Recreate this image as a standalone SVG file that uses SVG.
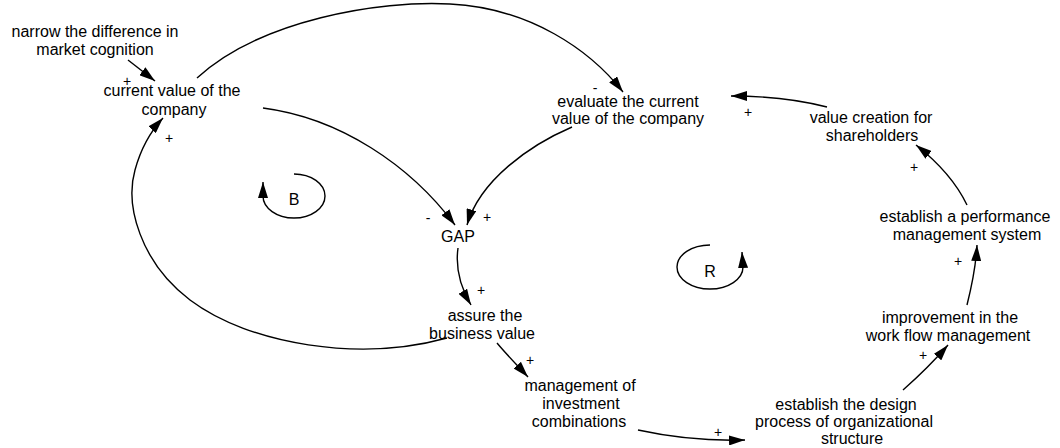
<svg xmlns="http://www.w3.org/2000/svg" width="1060" height="448" viewBox="0 0 1060 448">
  <defs>
    <marker id="head" viewBox="0 0 16 10" refX="16" refY="5" markerWidth="16" markerHeight="10" markerUnits="userSpaceOnUse" orient="auto">
      <path d="M0,0 L16,5 L0,10 z" fill="#000"/>
    </marker>
    <style>
      text { font-family: "Liberation Sans", Arial, Helvetica, sans-serif; font-size: 16px; fill: #000; text-anchor: middle; }
      .sign { font-size: 14px; }
      .link { fill: none; stroke: #000; stroke-width: 1.4; marker-end: url(#head); }
      .loop { fill: none; stroke: #000; stroke-width: 1.4; marker-end: url(#head); }
    </style>
  </defs>
  <rect width="1060" height="448" fill="#fff"/>

  <!-- causal links -->
  <g id="connectors">
    <path class="link" d="M128,60 L155,81"/>
    <path class="link" d="M197,78 C260,20 380,0 450,4 C530,8 590,50 623,92"/>
    <path class="link" d="M263,108 C340,118 410,165 455,225"/>
    <path class="link" d="M572,127 C530,145 480,180 467,225"/>
    <path class="link" d="M458,248 C455,270 462,290 471,305"/>
    <path class="link" d="M447,338 C360,362 250,345 190,300 C140,262 125,205 135,170 C141,148 150,132 163,118"/>
    <path class="link" d="M497,343 C507,355 518,366 528,377"/>
    <path class="link" d="M638,430 C670,437 710,441 745,440"/>
    <path class="link" d="M903,390 C920,375 935,360 948,345"/>
    <path class="link" d="M967,305 C972,285 976,265 977,245"/>
    <path class="link" d="M967,205 C955,180 935,160 916,145"/>
    <path class="link" d="M827,107 C800,100 770,96 731,96"/>

    <!-- polarity signs -->
    <text class="sign" x="127" y="86">+</text>
    <text class="sign" x="169" y="143">+</text>
    <text class="sign" x="595" y="93">-</text>
    <text class="sign" x="748" y="117">+</text>
    <text class="sign" x="428" y="223">-</text>
    <text class="sign" x="487" y="222">+</text>
    <text class="sign" x="481" y="295">+</text>
    <text class="sign" x="530" y="365">+</text>
    <text class="sign" x="914" y="172">+</text>
    <text class="sign" x="958" y="266">+</text>
    <text class="sign" x="923" y="360">+</text>
    <text class="sign" x="718" y="437">+</text>
  </g>

  <!-- loop markers -->
  <g id="loop-B">
    <path class="loop" d="M294,174 A31,22 0 1,1 263,196 L263,182"/>
    <text x="294" y="205">B</text>
  </g>
  <g id="loop-R">
    <path class="loop" d="M710,245 A33,22 0 1,0 743,267 L742,252"/>
    <text x="710" y="277">R</text>
  </g>

  <!-- variables -->
  <g id="narrow-difference">
    <text x="95" y="37">narrow the difference in</text>
    <text x="95" y="55">market cognition</text>
  </g>
  <g id="current-value">
    <text x="172" y="96">current value of the</text>
    <text x="174" y="115">company</text>
  </g>
  <g id="evaluate-value">
    <text x="628" y="107">evaluate the current</text>
    <text x="628" y="124">value of the company</text>
  </g>
  <g id="value-creation">
    <text x="871" y="123">value creation for</text>
    <text x="872" y="141">shareholders</text>
  </g>
  <g id="gap">
    <text x="458" y="242">GAP</text>
  </g>
  <g id="performance-system">
    <text x="965" y="222">establish a performance</text>
    <text x="967" y="240">management system</text>
  </g>
  <g id="work-flow">
    <text x="950" y="323">improvement in the</text>
    <text x="948" y="341">work flow management</text>
  </g>
  <g id="business-value">
    <text x="485" y="321">assure the</text>
    <text x="482" y="339">business value</text>
  </g>
  <g id="investment-combinations">
    <text x="580" y="391">management of</text>
    <text x="581" y="409">investment</text>
    <text x="579" y="427">combinations</text>
  </g>
  <g id="organizational-design">
    <text x="846" y="410">establish the design</text>
    <text x="844" y="427">process of organizational</text>
    <text x="852" y="444">structure</text>
  </g>
</svg>
